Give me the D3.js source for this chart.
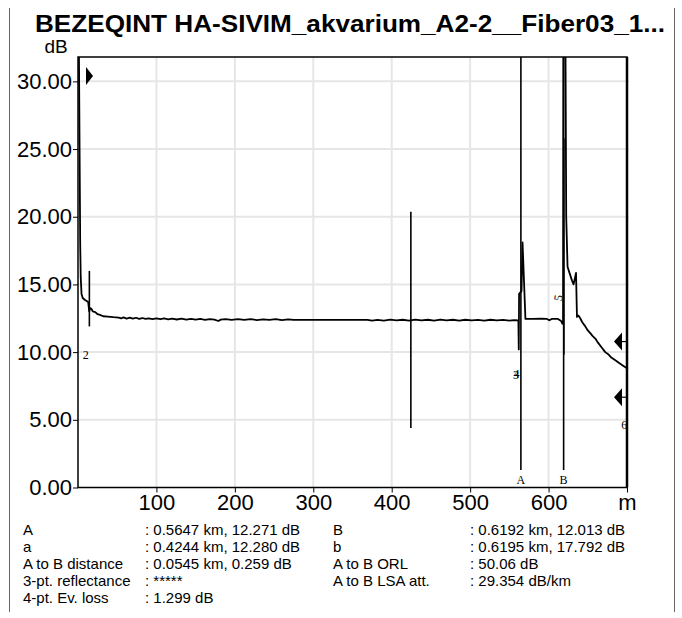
<!DOCTYPE html>
<html><head><meta charset="utf-8">
<script src="https://cdn.jsdelivr.net/npm/d3@7"></script>
<style>
html,body{margin:0;padding:0;background:#fff;}
svg{display:block;font-family:"Liberation Sans",Arial,sans-serif;}
</style></head>
<body><svg id="c" width="682" height="618"></svg>
<script>
// ---- data ----
const title = "BEZEQINT HA-SIVIM_akvarium_A2-2__Fiber03_1...";
const yUnit = "dB";
const xUnit = "m";
const xTicks = [100, 200, 300, 400, 500, 600];
const yTicks = [0, 5, 10, 15, 20, 25, 30];
// trace (distance m, level dB)
const traceDist = [0, 1.0, 2.0, 2.8, 3.5, 4.5, 6, 9, 13, 14.3, 15.5, 17, 19, 22, 25, 28, 32, 38, 45, 52, 55, 58, 62, 66, 70, 74, 78, 82, 86, 90, 95, 100, 105, 110, 115, 120, 126, 132, 138, 144, 150, 156, 162, 168, 174, 179, 182, 188, 196, 204, 212, 220, 228, 236, 244, 252, 260, 268, 275, 300, 330, 360, 369, 375, 382, 390, 398, 406, 414, 422, 430, 438, 446, 454, 462, 470, 478, 486, 494, 502, 510, 518, 526, 534, 542, 550, 556, 561.5, 562.0, 562.4, 565.5, 566.8, 570.5, 580, 590, 598, 601, 604, 612, 616, 617.5, 618.5, 619.0, 621.0, 622.5, 624.2, 627, 629.8, 631.9, 635.0, 636.2, 638, 640.4, 643, 646.8, 650, 653.2, 656, 659.6, 663, 667, 672.3, 676, 680, 685.1, 690, 695, 700];
const traceDb   = [40, 34, 25, 18, 15.5, 14.3, 14.0, 13.85, 13.7, 13.0, 13.25, 13.2, 13.0, 12.95, 12.8, 12.75, 12.65, 12.62, 12.58, 12.55, 12.5, 12.56, 12.48, 12.55, 12.47, 12.54, 12.46, 12.52, 12.45, 12.5, 12.44, 12.5, 12.43, 12.49, 12.42, 12.48, 12.41, 12.47, 12.4, 12.46, 12.4, 12.45, 12.39, 12.44, 12.4, 12.3, 12.4, 12.44, 12.38, 12.43, 12.38, 12.43, 12.37, 12.42, 12.38, 12.43, 12.37, 12.42, 12.38, 12.38, 12.38, 12.38, 12.38, 12.32, 12.38, 12.33, 12.4, 12.34, 12.39, 12.33, 12.4, 12.34, 12.39, 12.33, 12.4, 12.34, 12.39, 12.33, 12.39, 12.34, 12.38, 12.33, 12.39, 12.34, 12.38, 12.33, 12.36, 12.35, 10.2, 14.3, 14.5, 18.1, 12.45, 12.45, 12.47, 12.45, 12.35, 12.45, 12.45, 12.3, 12.1, 12.2, 40, 40, 20, 16.3, 15.8, 15.3, 15.0, 15.85, 12.6, 12.7, 12.5, 12.2, 11.9, 11.6, 11.4, 11.2, 11.0, 10.7, 10.4, 10.0, 9.85, 9.6, 9.4, 9.2, 9.0, 8.8];
// cursors / markers: name, position (m), top dB, bottom dB (null = full height)
const markerNames = ["A", "B", "a", "b", ""];
const markerDist  = [564.7, 619.2, 424.4, 619.5, 14.5];
const markerTop   = [null, null, 20.36, 25.8, 16.0];
const markerBot   = [1.3, 1.3, 4.4, 9.8, 11.9];
// event numbers
const eventLabels = ["2", "3", "4", "5", "6"];
const eventDist   = [10, 558.4, 559.0, 614, 696.6];
const eventDb     = [9.7, 8.2, 8.3, 14.0, 4.55];
// level arrows
const arrowDb  = [30.4, 10.78, 6.67];
const arrowDir = ["right", "left", "left"];
// info table
const infoLeftLabels  = ["A", "a", "A to B distance", "3-pt. reflectance", "4-pt. Ev. loss"];
const infoLeftValues  = [": 0.5647 km, 12.271 dB", ": 0.4244 km, 12.280 dB", ": 0.0545 km, 0.259 dB", ": *****", ": 1.299 dB"];
const infoRightLabels = ["B", "b", "A to B ORL", "A to B LSA att."];
const infoRightValues = [": 0.6192 km, 12.013 dB", ": 0.6195 km, 17.792 dB", ": 50.06 dB", ": 29.354 dB/km"];

// ---- layout ----
const svg = d3.select("#c");
const L = 78, R = 627, T = 57, B = 487.5;
const x = d3.scaleLinear().domain([0, 700]).range([L, R]);
const y = d3.scaleLinear().domain([0, 31.8]).range([B, T]);

// outer border
svg.append("line").attr("x1", 9.5).attr("x2", 9.5).attr("y1", 8).attr("y2", 612).attr("stroke", "#666").attr("stroke-width", 1);
svg.append("line").attr("x1", 674.5).attr("x2", 674.5).attr("y1", 8).attr("y2", 612).attr("stroke", "#666").attr("stroke-width", 1);

// title
svg.append("text").attr("x", 350).attr("y", 32).attr("text-anchor", "middle")
  .attr("font-weight", "bold").attr("font-size", 24)
  .attr("textLength", 630).attr("lengthAdjust", "spacingAndGlyphs").text(title);
svg.append("text").attr("x", 56).attr("y", 53).attr("text-anchor", "middle")
  .attr("font-size", 19).text(yUnit);

// grid
const grid = svg.append("g");
grid.selectAll("line.gx").data(xTicks.concat([700])).join("line")
  .attr("x1", d => x(d)).attr("x2", d => x(d)).attr("y1", T).attr("y2", B)
  .attr("stroke", "#e6e6e6").attr("stroke-width", 2);
grid.selectAll("line.gy").data(yTicks.filter(d => d > 0)).join("line")
  .attr("x1", L).attr("x2", R + 2).attr("y1", d => y(d)).attr("y2", d => y(d))
  .attr("stroke", "#e6e6e6").attr("stroke-width", 2);

// axes
const yAxis = d3.axisLeft(y).tickValues(yTicks).tickFormat(d3.format(".2f")).tickSize(5).tickPadding(1);
const gy = svg.append("g").attr("transform", `translate(${L},0)`).call(yAxis);
gy.select(".domain").remove();
gy.selectAll("text").attr("font-size", 22).attr("font-family", "Liberation Sans, Arial, sans-serif").attr("fill", "#000");
gy.selectAll("line").attr("stroke", "#000");

const xAxis = d3.axisBottom(x).tickValues(xTicks.concat([700]))
  .tickFormat(d => d === 700 ? xUnit : d).tickSize(5).tickPadding(2);
const gx = svg.append("g").attr("transform", `translate(0,${B})`).call(xAxis);
gx.select(".domain").remove();
gx.selectAll("text").attr("font-size", 22).attr("font-family", "Liberation Sans, Arial, sans-serif").attr("fill", "#000");
gx.selectAll("line").attr("stroke", "#000");

// clip
svg.append("clipPath").attr("id", "clip").append("rect")
  .attr("x", L).attr("y", T).attr("width", R - L).attr("height", B - T);

// trace
const pts = traceDist.map((d, i) => [d, traceDb[i]]);
const line = d3.line().x(d => x(d[0])).y(d => y(d[1]));
svg.append("path").attr("clip-path", "url(#clip)").datum(pts).attr("d", line)
  .attr("fill", "none").attr("stroke", "#000").attr("stroke-width", 1.8).attr("stroke-linejoin", "round");

// markers
const mk = svg.append("g");
markerDist.forEach((d, i) => {
  const yt = markerTop[i] === null ? T : y(markerTop[i]);
  mk.append("line").attr("x1", x(d)).attr("x2", x(d)).attr("y1", yt).attr("y2", y(markerBot[i]))
    .attr("stroke", "#000").attr("stroke-width", 1.6);
  if (markerNames[i] === "A" || markerNames[i] === "B") {
    mk.append("text").attr("x", x(d)).attr("y", B - 4).attr("text-anchor", "middle")
      .attr("font-family", "Liberation Serif, Times New Roman, serif").attr("font-size", 12).text(markerNames[i]);
  }
});

// event labels
eventLabels.forEach((t, i) => {
  const tx = x(eventDist[i]), ty = y(eventDb[i]);
  const el = svg.append("text").attr("x", tx).attr("y", ty).attr("text-anchor", "middle")
    .attr("dominant-baseline", "middle").attr("fill", "#000")
    .attr("font-family", "Liberation Serif, Times New Roman, serif").attr("font-size", 12).text(t);
  if (t === "5") el.attr("transform", `rotate(-80,${tx},${ty})`);
});

// arrows
arrowDb.forEach((v, i) => {
  const cy = y(v);
  if (arrowDir[i] === "right") {
    const bx = L + 8;
    svg.append("path").attr("d", `M${bx},${cy - 9}L${bx + 7},${cy}L${bx},${cy + 9}Z`).attr("fill", "#000");
  } else {
    const tip = R - 13;
    svg.append("path").attr("d", `M${tip},${cy}L${tip + 8},${cy - 9}L${tip + 8},${cy + 9}Z`).attr("fill", "#000");
    svg.append("line").attr("x1", tip + 8).attr("x2", R).attr("y1", cy).attr("y2", cy).attr("stroke", "#000").attr("stroke-width", 1.2);
  }
});

// frame
svg.append("rect").attr("x", L).attr("y", T).attr("width", R - L).attr("height", B - T)
  .attr("fill", "none").attr("stroke", "#000").attr("stroke-width", 1.5);
svg.append("line").attr("x1", R).attr("x2", R).attr("y1", T).attr("y2", B).attr("stroke", "#000").attr("stroke-width", 2.5);

// info table
const info = svg.append("g").attr("font-size", 15).attr("fill", "#000");
infoLeftLabels.forEach((t, i) => {
  info.append("text").attr("x", 23).attr("y", 535 + 17 * i).text(t);
  info.append("text").attr("x", 145).attr("y", 535 + 17 * i).text(infoLeftValues[i]);
});
infoRightLabels.forEach((t, i) => {
  info.append("text").attr("x", 333).attr("y", 535 + 17 * i).text(t);
  info.append("text").attr("x", 470).attr("y", 535 + 17 * i).text(infoRightValues[i]);
});
</script></body></html>
